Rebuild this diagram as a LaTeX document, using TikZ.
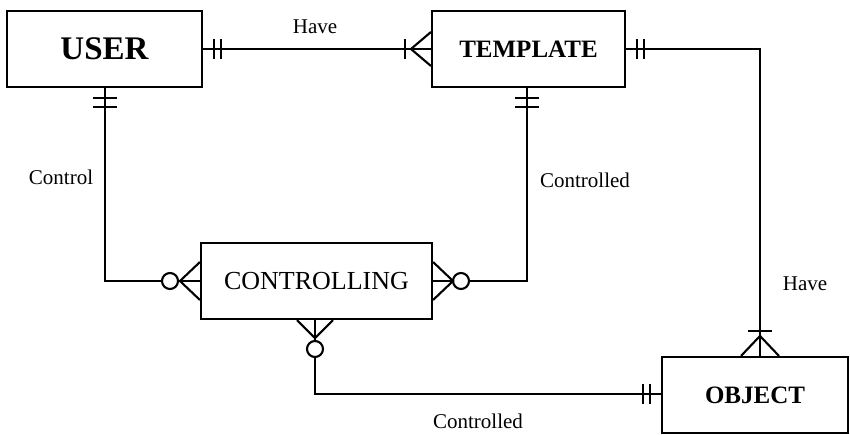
\documentclass[tikz,border=0pt]{standalone}
\usepackage{fontspec}
\setmainfont{Liberation Serif}
\usetikzlibrary{calc}
\begin{document}
\begin{tikzpicture}[x=1pt,y=-1pt, line width=2.1pt,
  ent/.style={draw, rectangle, minimum height=76pt, inner sep=0pt},
  lbl/.style={font=\fontsize{21}{21}\selectfont, inner sep=0pt},
  ring/.style={draw, circle, fill=white, minimum size=16pt, inner sep=0pt}]
\useasboundingbox (0,0) rectangle (850,435);
% entities
\node[ent, minimum width=195pt, font=\fontsize{33}{33}\selectfont\bfseries] (user) at (104.5,49) {USER};
\node[ent, minimum width=193pt, font=\fontsize{25}{25}\selectfont\bfseries] (template) at (528.5,49) {TEMPLATE};
\node[ent, minimum width=231pt, font=\fontsize{26}{26}\selectfont] (controlling) at (316.5,281) {CONTROLLING};
\node[ent, minimum width=186pt, font=\fontsize{25}{25}\selectfont\bfseries] (object) at (755,395) {OBJECT};
% optional rings
\node[ring] (r1) at (170,281) {};
\node[ring] (r2) at (461,281) {};
\node[ring] (r3) at (315,349) {};
% bends
\coordinate (b1) at (105,281);
\coordinate (b2) at (527,281);
\coordinate (b3) at (760,49);
\coordinate (b4) at (315,394);
% USER -- TEMPLATE (Have)
\draw (user.east) -- (template.west);
\draw ($(user.east)+(11,-10)$) -- ++(0,20);
\draw ($(user.east)+(18,-10)$) -- ++(0,20);
\draw ($(template.west)+(0,-17)$) -- ($(template.west)+(-20,0)$) -- ($(template.west)+(0,17)$);
\draw ($(template.west)+(-26,-10)$) -- ++(0,20);
% USER -- CONTROLLING (Control)
\draw (user.south -| b1) -- (b1) -- (r1.west);
\draw (r1.east) -- (controlling.west);
\draw ($(user.south -| b1)+(-12,10)$) -- ++(24,0);
\draw ($(user.south -| b1)+(-12,19)$) -- ++(24,0);
\draw ($(controlling.west)+(0,-19)$) -- ($(controlling.west)+(-20,0)$) -- ($(controlling.west)+(0,19)$);
% TEMPLATE -- CONTROLLING (Controlled)
\draw (template.south -| b2) -- (b2) -- (r2.east);
\draw (r2.west) -- (controlling.east);
\draw ($(template.south -| b2)+(-12,10)$) -- ++(24,0);
\draw ($(template.south -| b2)+(-12,19)$) -- ++(24,0);
\draw ($(controlling.east)+(0,-19)$) -- ($(controlling.east)+(20,0)$) -- ($(controlling.east)+(0,19)$);
% TEMPLATE -- OBJECT (Have)
\draw (template.east) -- (b3) -- (object.north -| b3);
\draw ($(template.east)+(11,-10)$) -- ++(0,20);
\draw ($(template.east)+(18,-10)$) -- ++(0,20);
\draw ($(object.north -| b3)+(-19,0)$) -- ($(object.north -| b3)+(0,-20)$) -- ($(object.north -| b3)+(19,0)$);
\draw ($(object.north -| b3)+(-12,-25)$) -- ++(24,0);
% CONTROLLING -- OBJECT (Controlled)
\draw ($(controlling.south -| r3)$) -- (r3.north);
\draw (r3.south) -- (b4) -- (object.west |- b4);
\draw ($(controlling.south -| r3)+(-18,0)$) -- ($(controlling.south -| r3)+(0,18)$) -- ($(controlling.south -| r3)+(18,0)$);
\draw ($(object.west |- b4)+(-18,-10)$) -- ++(0,20);
\draw ($(object.west |- b4)+(-11,-10)$) -- ++(0,20);
% labels
\node[lbl] (l1) at (315,27) {Have};
\node[lbl] (l2) at (61,177) {Control};
\node[lbl] (l3) at (585,180) {Controlled};
\node[lbl] (l4) at (805,284) {Have};
\node[lbl] (l5) at (478,421) {Controlled};
\end{tikzpicture}
\end{document}
